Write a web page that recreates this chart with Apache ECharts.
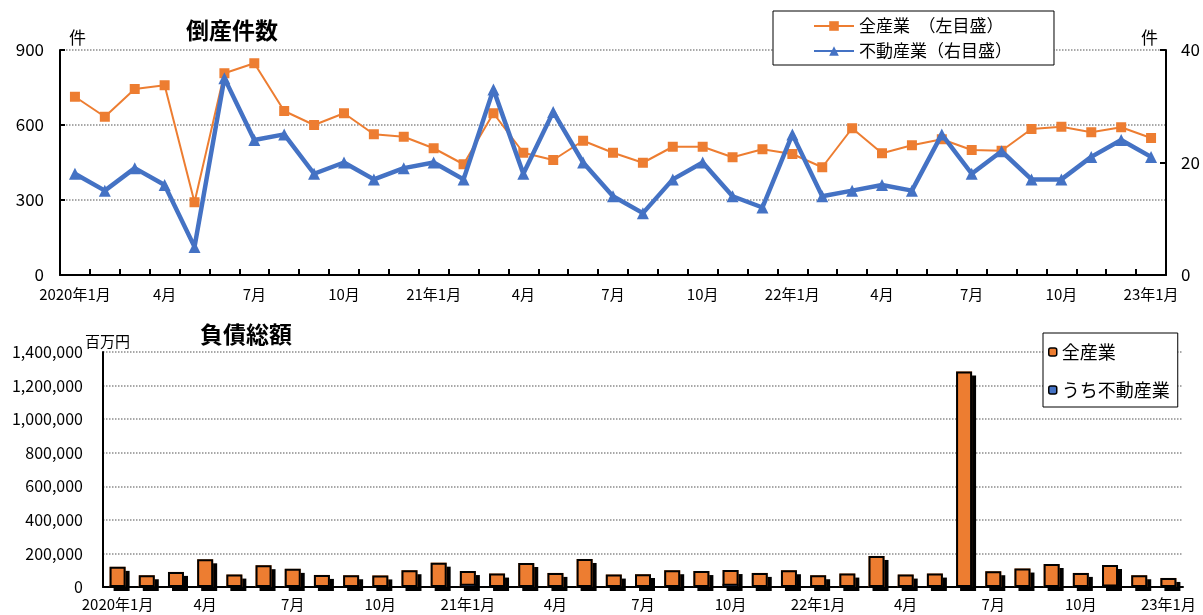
<!DOCTYPE html>
<html>
<head>
<meta charset="utf-8">
<script src="https://cdn.jsdelivr.net/npm/echarts@6/dist/echarts.min.js"></script>
<style>
  html, body { margin: 0; padding: 0; background: #fff; }
  #chart { width: 1203px; height: 615px; }
</style>
</head>
<body>
<div id="chart"></div>
<script>
// Monthly categories, 2020年1月 – 2023年1月
const months = [
  '2020年1月','2月','3月','4月','5月','6月','7月','8月','9月','10月','11月','12月',
  '21年1月','2月','3月','4月','5月','6月','7月','8月','9月','10月','11月','12月',
  '22年1月','2月','3月','4月','5月','6月','7月','8月','9月','10月','11月','12月',
  '23年1月'
];

// 倒産件数（全産業, 左目盛）
const countAll = [
  713, 633, 744, 759, 291, 807, 847, 656, 600, 647, 563, 553,
  507, 443, 647, 489, 460, 537, 489, 449, 513, 513, 471, 503,
  484, 431, 587, 487, 519, 543, 500, 497, 584, 593, 571, 591,
  548
];

// 倒産件数（不動産業, 右目盛）
const countRealEstate = [
  18, 15, 19, 16, 5, 35, 24, 25, 18, 20, 17, 19,
  20, 17, 33, 18, 29, 20, 14, 11, 17, 20, 14, 12,
  25, 14, 15, 16, 15, 25, 18, 22, 17, 17, 21, 24,
  21
];

// 負債総額（百万円）
const debtAll = [
  120000, 70000, 90000, 165000, 74000, 130000, 108000, 72000, 70000, 69000, 100000, 145000,
  95000, 80000, 143000, 84000, 167000, 74000, 76000, 100000, 95000, 101000, 84000, 100000,
  70000, 80000, 185000, 74000, 80000, 1284000, 94000, 110000, 137000, 84000, 131000, 70000,
  54000
];

const debtRealEstate = [
  10000, 3000, 4000, 5000, 2000, 6000, 5000, 3000, 4000, 3000, 4000, 6000,
  20000, 3000, 6000, 4000, 5000, 3000, 4000, 5000, 4000, 20000, 3000, 4000,
  3000, 5000, 6000, 4000, 3000, 5000, 4000, 3000, 5000, 4000, 15000, 3000,
  3000
];

const FONT = '"Noto Sans CJK JP", "Noto Sans", sans-serif';
const ORANGE = '#ED7D31';
const BLUE = '#4472C4';

const chart = echarts.init(document.getElementById('chart'), null, { renderer: 'canvas' });

const gridLine = { show: true, lineStyle: { color: '#8c8c8c', type: 'dotted', width: 1.5 } };
const blackAxis = { show: true, lineStyle: { color: '#000', width: 2 } };
const plainText = (size) => ({ fontSize: size, fontWeight: 'normal', color: '#000', fontFamily: FONT });

chart.setOption({
  backgroundColor: '#fff',
  animation: false,
  textStyle: { fontFamily: FONT, color: '#000' },
  title: [
    { text: '倒産件数', left: 232, top: 19, textAlign: 'center', padding: 0,
      textStyle: { fontSize: 23, fontWeight: 'bold', color: '#000', fontFamily: FONT } },
    { text: '負債総額', left: 246, top: 323, textAlign: 'center', padding: 0,
      textStyle: { fontSize: 23, fontWeight: 'bold', color: '#000', fontFamily: FONT } },
    { text: '件', left: 69, top: 29, padding: 0, textStyle: plainText(17) },
    { text: '件', left: 1141, top: 29, padding: 0, textStyle: plainText(17) },
    { text: '百万円', left: 85, top: 334, padding: 0, textStyle: plainText(15) }
  ],
  legend: [
    {
      data: ['全産業　（左目盛）', '不動産業（右目盛）'],
      orient: 'vertical',
      left: 773, top: 11,
      padding: [5, 42, 4, 40],
      itemGap: 5,
      itemWidth: 40, itemHeight: 12,
      borderColor: '#000', borderWidth: 1,
      backgroundColor: '#fff',
      textStyle: { fontSize: 17, fontFamily: FONT, color: '#000', lineHeight: 20 }
    },
    {
      data: [
        { name: '全産業', itemStyle: { color: ORANGE, borderColor: '#000', borderWidth: 1.5 } },
        { name: 'うち不動産業', itemStyle: { color: BLUE, borderColor: '#000', borderWidth: 1.5 } }
      ],
      orient: 'vertical',
      left: 1043, top: 333,
      padding: [8, 8, 6, 5],
      itemGap: 16,
      itemWidth: 8, itemHeight: 8,
      borderColor: '#000', borderWidth: 1,
      backgroundColor: '#fff',
      textStyle: { fontSize: 18, fontFamily: FONT, color: '#000', lineHeight: 22 }
    }
  ],
  grid: [
    { left: 60, right: 37, top: 50, bottom: 340 },
    { left: 103, right: 20, top: 352, bottom: 28 }
  ],
  xAxis: [
    {
      type: 'category', gridIndex: 0, data: months, boundaryGap: true,
      axisLine: blackAxis,
      axisTick: { show: true, inside: true, length: 6, interval: 0, alignWithLabel: false,
                  lineStyle: { color: '#000', width: 2 } },
      axisLabel: { interval: 2, fontSize: 15, color: '#000', margin: 12, fontFamily: FONT }
    },
    {
      type: 'category', gridIndex: 1, data: months, boundaryGap: true,
      axisLine: blackAxis,
      axisTick: { show: false },
      axisLabel: { interval: 2, fontSize: 15, color: '#000', margin: 10, fontFamily: FONT }
    }
  ],
  yAxis: [
    {
      type: 'value', gridIndex: 0, min: 0, max: 900, interval: 300, position: 'left',
      axisLine: blackAxis,
      axisTick: { show: true, inside: true, length: 5, lineStyle: { color: '#000', width: 2 } },
      axisLabel: { fontSize: 17, color: '#000', margin: 16, fontFamily: FONT },
      splitLine: gridLine
    },
    {
      type: 'value', gridIndex: 0, min: 0, max: 40, interval: 20, position: 'right',
      axisLine: blackAxis,
      axisTick: { show: true, inside: true, length: 6, lineStyle: { color: '#000', width: 2 } },
      axisLabel: { fontSize: 17, color: '#000', margin: 15, fontFamily: FONT },
      splitLine: { show: false }
    },
    {
      type: 'value', gridIndex: 1, min: 0, max: 1400000, interval: 200000,
      axisLine: blackAxis,
      axisTick: { show: false },
      axisLabel: {
        fontSize: 16, color: '#000', margin: 20, fontFamily: FONT,
        formatter: v => v.toLocaleString('en-US')
      },
      splitLine: gridLine
    }
  ],
  series: [
    {
      name: '全産業　（左目盛）', type: 'line', xAxisIndex: 0, yAxisIndex: 0,
      data: countAll,
      symbol: 'rect', symbolSize: 10,
      lineStyle: { color: ORANGE, width: 2 },
      itemStyle: { color: ORANGE },
      z: 3
    },
    {
      name: '不動産業（右目盛）', type: 'line', xAxisIndex: 0, yAxisIndex: 1,
      data: countRealEstate,
      symbol: 'triangle', symbolSize: 12,
      lineStyle: { color: BLUE, width: 4.5 },
      itemStyle: { color: BLUE },
      z: 4
    },
    // Orange fill with the solid drop shadow (no stroke, so the shadow stays outside)
    {
      name: '全産業', type: 'bar', xAxisIndex: 1, yAxisIndex: 2,
      data: debtAll,
      barWidth: 16,
      itemStyle: {
        color: ORANGE,
        shadowColor: '#000', shadowBlur: 0.1, shadowOffsetX: 4, shadowOffsetY: 4
      },
      z: 2
    },
    // Black outline drawn over the filled bars
    {
      name: '全産業枠', type: 'bar', xAxisIndex: 1, yAxisIndex: 2,
      data: debtAll,
      barWidth: 16, barGap: '-100%',
      itemStyle: { color: 'rgba(0,0,0,0)', borderColor: '#000', borderWidth: 2 },
      z: 3
    },
    {
      name: 'うち不動産業', type: 'bar', xAxisIndex: 1, yAxisIndex: 2,
      data: debtRealEstate,
      barWidth: 16, barGap: '-100%',
      itemStyle: { color: BLUE, borderColor: '#000', borderWidth: 1.5 },
      z: 4
    }
  ]
});
</script>
</body>
</html>
